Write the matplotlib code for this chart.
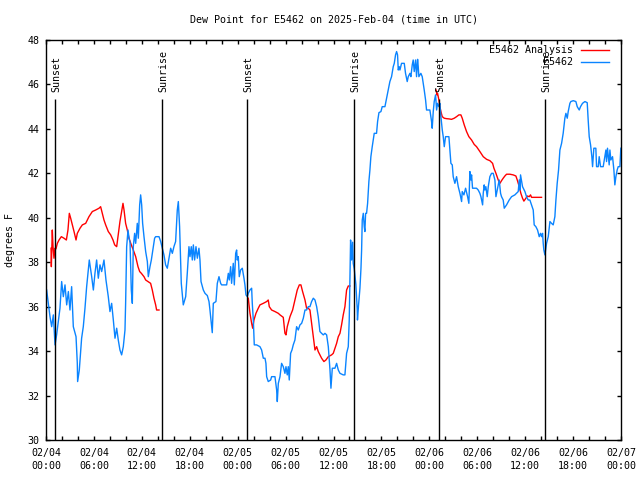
import numpy as np
import pandas as pd
import matplotlib
matplotlib.use('Agg')
import matplotlib.pyplot as plt
import matplotlib.dates as mdates
import matplotlib.transforms as mtransforms

# hours after 2025-02-04 00:00 UTC, dew point in degrees F
obs_hours = [
    0.08, 0.50, 0.71, 0.92, 1.13, 1.33, 1.75, 1.96, 2.17, 2.38, 2.59, 2.80, 3.00, 3.21, 3.42,
    3.76, 3.92, 3.96, 4.17, 4.46, 4.67, 4.88, 5.09, 5.30, 5.42, 5.72, 5.93, 6.13, 6.34, 6.55,
    6.76, 6.97, 7.26, 7.51, 7.80, 8.01, 8.22, 8.43, 8.64, 8.85, 9.05, 9.26, 9.47, 9.68, 9.89,
    9.97, 10.10, 10.27, 10.39, 10.52, 10.68, 10.81, 10.93, 11.10, 11.23, 11.43, 11.56, 11.73, 11.85, 11.98,
    12.10, 12.27, 12.48, 12.69, 12.81, 13.02, 13.19, 13.44, 13.60, 13.73, 14.15, 14.36, 14.56, 14.77, 14.98,
    15.19, 15.40, 15.61, 15.82, 16.02, 16.23, 16.44, 16.57, 16.73, 16.94, 17.19, 17.49, 17.69, 17.90, 18.03,
    18.19, 18.32, 18.45, 18.61, 18.78, 18.95, 19.15, 19.28, 19.41, 19.70, 19.91, 20.20, 20.41, 20.53, 20.74,
    20.82, 20.95, 21.28, 21.45, 21.66, 21.87, 21.99, 22.62, 22.83, 22.95, 23.12, 23.24, 23.45, 23.58, 23.75,
    23.87, 23.95, 24.08, 24.20, 24.37, 24.58, 24.79, 24.91, 25.04, 25.21, 25.33, 25.54, 25.75, 25.83, 25.96,
    26.08, 26.37, 26.79, 27.00, 27.21, 27.42, 27.54, 27.63, 27.83, 28.13, 28.25, 28.67, 28.88, 28.96, 29.09,
    29.30, 29.50, 29.71, 29.92, 30.05, 30.21, 30.34, 30.46, 30.63, 30.80, 30.96, 31.17, 31.38, 31.59, 31.80,
    32.01, 32.22, 32.43, 32.63, 32.84, 33.05, 33.26, 33.47, 33.68, 33.89, 34.09, 34.30, 34.51, 34.72, 34.93,
    35.14, 35.35, 35.56, 35.68, 35.85, 35.97, 36.18, 36.39, 36.60, 36.81, 37.22, 37.43, 37.64, 37.85, 37.97,
    38.14, 38.27, 38.40, 38.47, 38.60, 38.80, 38.97, 39.00, 39.14, 39.31, 39.44, 39.52, 39.60, 39.73, 39.85,
    39.93, 40.02, 40.14, 40.27, 40.43, 40.56, 40.68, 40.85, 41.10, 41.39, 41.52, 41.69, 41.94, 42.10, 42.44,
    42.65, 42.85, 43.06, 43.27, 43.48, 43.61, 43.77, 43.90, 44.02, 44.11, 44.23, 44.32, 44.52, 44.86, 45.02,
    45.23, 45.36, 45.57, 45.69, 45.86, 45.98, 46.11, 46.28, 46.40, 46.53, 46.61, 46.69, 46.94, 47.11, 47.24,
    47.36, 47.53, 47.65, 48.07, 48.28, 48.36, 48.49, 48.61, 48.78, 48.91, 49.03, 49.20, 49.32, 49.45, 49.62,
    49.74, 49.87, 50.03, 50.28, 50.45, 50.58, 50.70, 50.87, 50.99, 51.20, 51.41, 51.62, 51.83, 52.04, 52.12,
    52.33, 52.54, 52.79, 52.95, 53.08, 53.20, 53.29, 53.41, 53.58, 53.91, 54.12, 54.33, 54.46, 54.67, 54.75,
    54.87, 54.96, 55.08, 55.25, 55.38, 55.58, 55.79, 56.00, 56.21, 56.34, 56.50, 56.75, 56.92, 57.04, 57.25,
    57.38, 57.67, 58.00, 58.30, 58.71, 59.13, 59.26, 59.34, 59.42, 59.67, 59.97, 60.17, 60.38, 60.59, 60.80,
    61.01, 61.13, 61.34, 61.55, 61.76, 61.93, 62.05, 62.18, 62.26, 62.34, 62.47, 62.68, 62.89, 63.10, 63.30,
    63.51, 63.72, 63.85, 64.01, 64.18, 64.35, 64.56, 64.76, 64.97, 65.10, 65.27, 65.39, 65.60, 65.72, 66.02,
    66.35, 66.52, 66.77, 66.93, 67.18, 67.48, 67.77, 67.89, 68.02, 68.19, 68.35, 68.44, 68.60, 68.85, 68.94,
    69.15, 69.27, 69.44, 69.77, 69.98, 70.11, 70.19, 70.31, 70.52, 70.61, 70.73, 70.94, 71.11, 71.23, 71.36,
    71.52, 71.65, 71.86, 71.98,
]
obs_dewpt = [
    36.75, 35.55, 35.10, 35.63, 34.28, 34.73, 35.93, 37.13, 36.45, 36.98, 36.08, 36.68, 35.85, 36.90, 35.10,
    34.65, 33.45, 32.63, 33.15, 34.58, 35.10, 35.93, 36.90, 37.65, 38.10, 37.35, 36.75, 37.50, 38.10, 37.28,
    37.88, 37.58, 38.10, 37.20, 36.45, 35.78, 36.15, 35.40, 34.58, 35.03, 34.50, 34.05, 33.83, 34.20, 34.95,
    36.15, 38.70, 39.45, 39.10, 38.90, 36.75, 36.15, 38.70, 39.30, 38.85, 39.75, 39.08, 40.58, 41.03, 40.58,
    39.75, 39.15, 38.48, 38.03, 37.35, 37.80, 38.10, 38.70, 39.08, 39.15, 39.15, 38.93, 38.63, 38.33, 37.88,
    37.73, 38.18, 38.63, 38.40, 38.70, 38.93, 40.35, 40.73, 39.60, 37.05, 36.08, 36.45, 37.50, 38.70, 38.25,
    38.70, 38.10, 38.78, 38.10, 38.70, 38.18, 38.63, 38.10, 37.13, 36.75, 36.60, 36.50, 36.23, 35.85, 35.10,
    34.83, 36.15, 36.23, 37.05, 37.35, 37.05, 36.98, 36.98, 37.50, 37.20, 37.80, 37.05, 37.95, 36.98, 38.40,
    38.55, 38.10, 38.25, 37.35, 37.65, 37.73, 37.28, 36.98, 36.53, 36.45, 36.60, 36.75, 36.83, 36.15, 35.40,
    34.28, 34.28, 34.20, 34.05, 33.68, 33.68, 33.45, 32.85, 32.63, 32.70, 32.85, 32.85, 32.25, 31.73, 32.55,
    32.85, 33.45, 33.30, 33.00, 33.30, 32.93, 33.30, 32.70, 33.90, 34.05, 34.28, 34.50, 35.10, 34.95, 35.18,
    35.25, 35.48, 35.85, 35.85, 36.00, 36.00, 36.23, 36.38, 36.30, 36.00, 35.55, 34.88, 34.80, 34.73, 34.80,
    34.73, 34.20, 33.15, 32.33, 33.23, 33.23, 33.23, 33.45, 33.15, 33.00, 32.93, 32.93, 33.90, 34.20, 35.40,
    39.00, 38.10, 38.90, 37.95, 37.70, 37.00, 35.90, 35.40, 36.08, 36.83, 37.73, 38.55, 39.90, 40.20, 39.60,
    39.38, 40.20, 40.20, 40.65, 41.63, 42.15, 42.75, 43.20, 43.80, 43.80, 44.33, 44.73, 44.78, 45.00, 45.00,
    45.38, 45.75, 46.13, 46.35, 46.80, 46.95, 47.33, 47.48, 47.33, 46.65, 46.80, 46.65, 46.95, 46.95, 46.50,
    46.13, 46.35, 46.50, 46.35, 46.88, 47.10, 46.58, 47.10, 46.35, 47.13, 46.80, 46.35, 46.50, 46.35, 46.05,
    45.75, 45.30, 44.85, 44.85, 44.33, 44.03, 44.78, 45.23, 45.53, 44.85, 45.15, 45.00, 45.15, 44.55, 43.95,
    43.65, 43.20, 43.65, 43.65, 43.65, 43.05, 42.45, 42.38, 41.85, 41.55, 41.85, 41.40, 41.10, 40.73, 41.18,
    41.03, 41.33, 40.95, 40.65, 42.08, 41.70, 41.93, 41.33, 41.33, 41.33, 41.25, 41.10, 40.95, 40.58, 41.10,
    41.48, 41.25, 41.40, 40.95, 41.40, 41.85, 42.00, 42.00, 41.70, 40.95, 41.25, 41.70, 41.10, 40.95, 40.80,
    40.43, 40.58, 40.80, 40.95, 41.03, 41.18, 41.70, 41.25, 41.93, 41.40, 41.18, 40.95, 40.80, 40.80, 40.58,
    40.35, 39.68, 39.60, 39.45, 39.15, 39.30, 39.15, 39.30, 38.85, 38.55, 38.33, 38.85, 39.15, 39.83, 39.75,
    39.68, 40.05, 40.80, 41.55, 42.15, 43.05, 43.35, 43.80, 44.48, 44.70, 44.48, 44.78, 45.15, 45.23, 45.27,
    45.23, 45.00, 44.85, 45.00, 45.15, 45.23, 45.18, 44.40, 43.65, 43.28, 42.75, 42.30, 43.13, 43.13, 42.30,
    42.30, 42.75, 42.30, 42.30, 42.75, 43.05, 42.53, 43.13, 42.38, 43.05, 42.60, 42.75, 42.15, 41.48, 41.85,
    42.15, 42.30, 42.30, 43.13,
]

# analysis series, NaN marks the gaps between runs
ana_hours = [
    0.63, 0.67, 0.79, 0.88, 1.00, 1.12, 1.25, 1.42, 1.63, 1.92, 2.25, 2.55, 2.75, 2.92, 3.09,
    3.30, 3.51, 3.76, 3.92, 4.26, 4.55, 4.97, 5.38, 5.80, 6.22, 6.64, 6.84, 7.05, 7.26, 7.47,
    7.80, 8.10, 8.39, 8.60, 8.85, 9.01, 9.26, 9.47, 9.64, 9.77, 9.97, 10.18, 10.39, 10.68, 10.93,
    11.23, 11.52, 11.73, 11.94, 12.27, 12.48, 12.77, 13.10, 13.31, 13.52, 13.73, 13.85, 14.15,
    20.0,
    25.33, 25.54, 25.75, 25.88, 26.04, 26.29, 26.58, 26.79, 27.21, 27.63, 27.83, 27.96, 28.25, 28.67, 29.09,
    29.30, 29.71, 29.92, 30.05, 30.21, 30.55, 30.88, 31.17, 31.46, 31.72, 31.92, 32.13, 32.43, 32.63, 32.84,
    33.05, 33.26, 33.47, 33.68, 33.89, 34.09, 34.30, 34.51, 34.80, 35.05, 35.35, 35.76, 35.97, 36.18, 36.39,
    36.60, 36.81, 37.01, 37.22, 37.43, 37.64, 37.85, 38.06,
    44.0,
    48.86, 48.94, 49.03, 49.20, 49.32, 49.45, 49.62, 49.87, 50.16, 50.45, 50.78, 51.12, 51.41, 51.70, 51.95,
    52.12, 52.37, 52.66, 52.95, 53.29, 53.62, 53.91, 54.33, 54.75, 55.17, 55.58, 55.92, 56.09, 56.34, 56.63,
    56.84, 57.04, 57.25, 57.46, 57.67, 58.09, 58.50, 58.84, 59.01, 59.26, 59.46, 59.67, 59.84, 60.09, 60.26,
    60.51, 60.67, 60.80, 61.22, 61.63, 62.05,
]
ana_dewpt = [
    38.63, 37.80, 39.45, 38.70, 38.18, 38.63, 38.60, 38.85, 39.00, 39.15, 39.08, 39.00, 39.45, 40.20, 39.98,
    39.68, 39.38, 39.00, 39.30, 39.53, 39.68, 39.75, 40.05, 40.28, 40.35, 40.43, 40.50, 40.20, 39.90, 39.68,
    39.38, 39.23, 39.00, 38.78, 38.70, 39.15, 39.83, 40.28, 40.65, 40.35, 39.75, 39.45, 39.08, 38.78, 38.55,
    38.25, 37.80, 37.58, 37.50, 37.35, 37.20, 37.13, 37.05, 36.75, 36.38, 36.08, 35.85, 35.85,
    np.nan,
    36.38, 35.70, 35.25, 35.03, 35.40, 35.70, 35.93, 36.08, 36.15, 36.23, 36.30, 36.00, 35.85, 35.78, 35.70,
    35.63, 35.52, 34.80, 34.73, 35.10, 35.55, 35.85, 36.30, 36.75, 36.98, 36.98, 36.68, 36.30, 35.93, 35.93,
    35.85, 35.25, 34.65, 34.05, 34.20, 33.98, 33.83, 33.68, 33.53, 33.60, 33.75, 33.83, 33.90, 34.13, 34.35,
    34.65, 34.80, 35.18, 35.63, 36.00, 36.75, 36.93, 36.93,
    np.nan,
    45.75, 45.53, 45.60, 45.30, 45.00, 44.78, 44.55, 44.48, 44.46, 44.45, 44.43, 44.48, 44.55, 44.63, 44.63,
    44.48, 44.18, 43.88, 43.65, 43.50, 43.30, 43.20, 42.98, 42.75, 42.63, 42.57, 42.45, 42.23, 42.00, 41.70,
    41.55, 41.67, 41.78, 41.88, 41.96, 41.96, 41.93, 41.88, 41.70, 41.40, 41.10, 40.88, 40.75, 40.88, 40.98,
    40.95, 41.03, 40.92, 40.92, 40.92, 40.92,
]

sun_hours = [1.16, 14.56, 25.21, 38.60, 49.25, 62.52]
sun_labels = ['Sunset', 'Sunrise', 'Sunset', 'Sunrise', 'Sunset', 'Sunrise']

start = pd.Timestamp('2025-02-04 00:00')


def to_time(hours):
    return start + pd.to_timedelta(np.asarray(hours, dtype=float), unit='h')


plt.rcParams['font.family'] = ['DejaVu Sans Mono']
fs = 7.2

fig = plt.figure(figsize=(6.4, 4.8), dpi=100)
ax = fig.add_axes([46 / 640, 40 / 480, 575 / 640, 400 / 480])

ax.plot(to_time(ana_hours), ana_dewpt, color='#ff0000', lw=1.0)
ax.plot(to_time(obs_hours), obs_dewpt, color='#0a84ff', lw=1.0)

# sunrise / sunset markers
txt_off = mtransforms.offset_copy(ax.transData, fig=fig, x=1.5, y=0, units='dots')
for h, lab in zip(sun_hours, sun_labels):
    t = to_time([h])[0]
    ax.vlines(t, 30, 45.35, color='black', lw=1.0)
    ax.text(t, 45.66, lab, rotation=90, ha='center', va='bottom', fontsize=fs,
            transform=txt_off)

ax.set_xlim(start, start + pd.Timedelta(hours=72))
ax.set_ylim(30, 48)
ax.set_yticks(np.arange(30, 49, 2))

ax.xaxis.set_major_locator(mdates.HourLocator(byhour=[0, 6, 12, 18]))
ax.xaxis.set_minor_locator(mdates.HourLocator(byhour=range(0, 24, 2)))
ax.xaxis.set_major_formatter(mdates.DateFormatter('%m/%d\n%H:%M'))

ax.tick_params(which='both', direction='in', top=True, right=True, length=3, width=1)
ax.tick_params(axis='x', which='major', pad=5.5, labelsize=fs)
ax.tick_params(axis='y', pad=4.5, labelsize=fs)
for lbl in ax.get_xticklabels():
    lbl.set_linespacing(1.45)
for sp in ax.spines.values():
    sp.set_linewidth(1.0)

ax.text(0.5, 1 + 20 / 400, 'Dew Point for E5462 on 2025-Feb-04 (time in UTC)',
        transform=ax.transAxes, ha='center', va='center', fontsize=fs)
fig.text(10 / 640, 0.5, 'degrees F', rotation=90, ha='center', va='center', fontsize=fs)

# key drawn the gnuplot way: text right-justified, sample line after it
key = [('E5462 Analysis', '#ff0000', 0.975), ('E5462', '#0a84ff', 0.944)]
for name, col, ky in key:
    ax.text(0.9165, ky, name, transform=ax.transAxes, ha='right', va='center', fontsize=fs)
    ax.plot([0.930, 0.979], [ky, ky], color=col, lw=1.0, transform=ax.transAxes)

fig.savefig('out.png', dpi=100)
